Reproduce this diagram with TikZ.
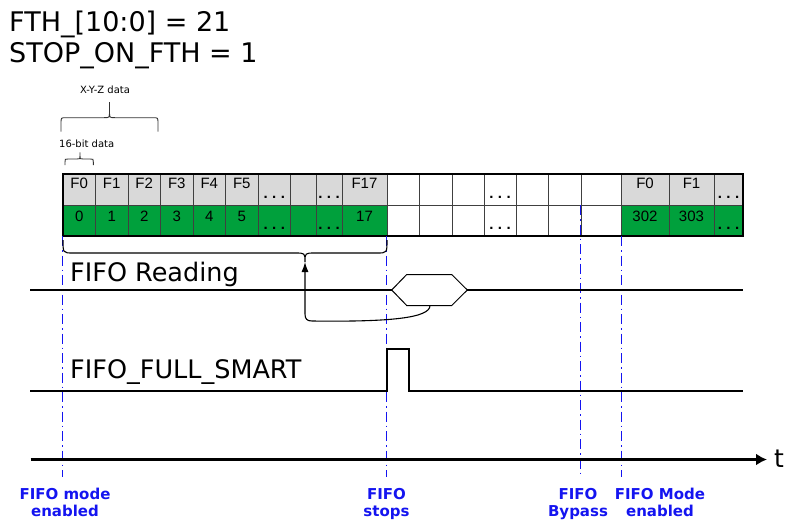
\documentclass[tikz,border=0pt]{standalone}
\usepackage{fontspec}
\setmainfont{DejaVu Sans}
\newfontfamily\tabfont{Liberation Sans}
\usetikzlibrary{arrows.meta}
\definecolor{cellgray}{RGB}{217,217,217}
\definecolor{cellgreen}{RGB}{0,160,60}
\definecolor{markblue}{RGB}{20,20,240}
\newcommand\ddd{\textbf{.\hspace{4.5pt}.\hspace{4.5pt}.}}
\begin{document}
\begin{tikzpicture}[x=1pt,y=-1pt,
  cellbox/.style={draw=black!75, line width=0.8pt, minimum height=31pt, inner sep=0pt, outer sep=0pt, anchor=north west},
  celltext/.style={font=\tabfont\fontsize{15}{17}\selectfont, inner sep=0pt, anchor=base},
  title/.style={font=\fontsize{27}{31}\selectfont, anchor=base west, inner sep=0pt},
  siglabel/.style={font=\fontsize{25.5}{29}\selectfont, anchor=base west, inner sep=0pt},
  small/.style={font=\fontsize{10}{12}\selectfont, inner sep=0pt},
  brace/.style={draw=black!80, line width=0.9pt},
  signal/.style={line width=2pt, line join=miter},
  marker/.style={draw=markblue, line width=1.1pt, dash pattern=on 10pt off 4pt on 1.5pt off 4pt},
  event/.style={font=\bfseries\fontsize{15}{17}\selectfont, text=markblue, align=center, inner sep=0pt, anchor=base},
]
\useasboundingbox (0,0) rectangle (789,519);

% titles
\node[title] (fth) at (9,31.7) {FTH\_[10:0] = 21};
\node[title] (stop) at (9,63) {STOP\_ON\_FTH = 1};

% table cells
\foreach \a/\b/\ct/\cb [count=\i] in {
  63/95.5/cellgray/cellgreen, 95.5/128/cellgray/cellgreen, 128/160.5/cellgray/cellgreen,
  160.5/193/cellgray/cellgreen, 193/225.5/cellgray/cellgreen, 225.5/258/cellgray/cellgreen,
  258/290.5/cellgray/cellgreen, 290.5/316/cellgray/cellgreen, 316/342/cellgray/cellgreen,
  342/387/cellgray/cellgreen, 387/419/white/white, 419/452/white/white, 452/484/white/white,
  484/516/white/white, 516/548/white/white, 548/581/white/white, 581/621/white/white,
  621/669/cellgray/cellgreen, 669/714/cellgray/cellgreen, 714/743/cellgray/cellgreen}{
  \node[cellbox, fill=\ct, minimum width={(\b-\a)*1pt}] (t\i) at (\a,174) {};
  \node[cellbox, fill=\cb, minimum width={(\b-\a)*1pt}] (b\i) at (\a,205) {};
}
\draw[line width=2.5pt] (t1.north west) rectangle (b20.south east);

% cell texts
\foreach \x/\y/\t [count=\j] in {
  79.25/188.5/F0, 111.75/188.5/F1, 144.25/188.5/F2, 176.75/188.5/F3, 209.25/188.5/F4,
  241.75/188.5/F5, 274.25/198.5/\ddd, 329/198.5/\ddd, 364.5/188.5/F17, 500/198.5/\ddd,
  645/188.5/F0, 691.5/188.5/F1, 728.5/198.5/\ddd,
  79.25/221.5/0, 111.75/221.5/1, 144.25/221.5/2, 176.75/221.5/3, 209.25/221.5/4,
  241.75/221.5/5, 274.25/229/\ddd, 329/229/\ddd, 364.5/221.5/17, 500/229/\ddd,
  645/221.5/302, 691.5/221.5/303, 728.5/229/\ddd}{
  \node[celltext] (tx\j) at (\x,\y) {\t};
}

% small braces and labels
\node[small] (xyz) at (105,90) {X-Y-Z data};
\draw[brace] (61,131.7) -- (61,123) .. controls (61,117.7) .. (66,117.7) -- (104,117.7)
  .. controls (109.5,117.7) .. (109.5,112) -- (109.5,102) -- (109.5,112)
  .. controls (109.5,117.7) .. (115,117.7) -- (153,117.7) .. controls (158,117.7) .. (158,123) -- (158,131.7);
\node[small] (bit16) at (86.7,143.3) {16-bit data};
\draw[brace] (65,165) -- (65,162) .. controls (65,159) .. (68,159) -- (77,159)
  .. controls (80,159) .. (80,156) -- (80,152.3) -- (80,156)
  .. controls (80,159) .. (83,159) -- (90.3,159) .. controls (93.3,159) .. (93.3,162) -- (93.3,165);

% event markers
\coordinate (ev1) at (62.5,477);
\coordinate (ev2) at (386.5,477);
\coordinate (ev3) at (580.5,477);
\coordinate (ev4) at (621.5,477);
\draw[marker] ([xshift=-0.5pt]b1.south west) -- (ev1);
\draw[marker] ([xshift=-0.5pt]b10.south east) -- (ev2);
\draw[marker] ([xshift=-0.5pt]b17.north west) -- (ev3);
\draw[marker] ([xshift=0.5pt]b18.south west) -- (ev4);

% big brace
\coordinate (braceTip) at (305,262);
\draw[line width=1.1pt] (63,240) .. controls (63,253) .. (73,253) -- (295,253)
  .. controls (305,253) .. (braceTip) .. controls (305,253) .. (315,253) -- (377,253)
  .. controls (387,253) .. (387,240);

% FIFO Reading signal
\node[siglabel] (rdlabel) at (70,281.7) {FIFO Reading};
\coordinate (hexL) at (391.7,290);
\coordinate (hexR) at (467.3,290);
\coordinate (hexB) at (430,305.5);
\draw[signal] (30,290) -- (hexL);
\draw[signal] (hexR) -- (743,290);
\draw[line width=1pt] (hexL) -- (406.7,274.5) -- (451.7,274.5) -- (hexR) -- (451.7,305.5) -- (406.7,305.5) -- cycle;
\draw[line width=1.1pt, -{Latex[length=10pt,width=7pt]}] (hexB) .. controls (430,318) and (390,322) .. (312,321)
  .. controls (307,321) and (305,319) .. (305,314) -- (braceTip);

% FIFO_FULL_SMART signal
\node[siglabel] (fslabel) at (70,378.3) {FIFO\_FULL\_SMART};
\draw[signal] (30,391) -- (386.7,391) -- (386.7,348.7) -- (409,348.7) -- (409,391) -- (743,391);

% time axis
\coordinate (tstart) at (30.7,459.5);
\node[font=\fontsize{25}{29}\selectfont, anchor=base west, inner sep=0pt] (tlabel) at (774,467) {t};
\draw[line width=2.5pt, -{Latex[length=11pt,width=12pt]}] (tstart) -- (767,459.5);

% event labels
\node[event] (e1) at (65,516.5) {FIFO mode\\enabled};
\node[event] (e2) at (386.5,516.5) {FIFO\\stops};
\node[event] (e3) at (578,516.5) {FIFO\\Bypass};
\node[event] (e4) at (660,516.5) {FIFO Mode\\enabled};
\end{tikzpicture}
\end{document}
